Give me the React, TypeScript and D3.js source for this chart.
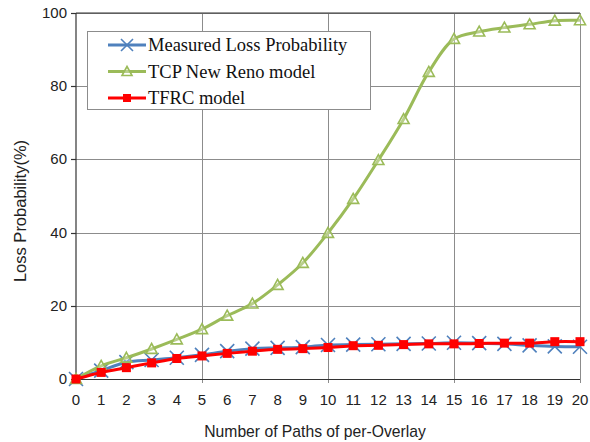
import * as d3 from "d3";
import React, { useEffect, useRef } from "react";

const paths = d3.range(0, 21);
const measured = [0, 2.3, 4.6, 5.2, 5.8, 6.6, 7.6, 8.3, 8.5, 8.7, 9.3, 9.4, 9.5, 9.6, 9.7, 9.9, 9.8, 9.6, 9.2, 8.9, 8.8];
const tcpNewReno = [0, 3.6, 5.8, 8.2, 10.8, 13.6, 17.3, 20.6, 25.7, 31.7, 39.9, 49.2, 59.8, 71, 83.9, 92.9, 94.9, 96, 96.9, 97.9, 98];
const tfrc = [0, 1.8, 3.1, 4.4, 5.6, 6.3, 7.0, 7.6, 8.1, 8.3, 8.6, 9.1, 9.2, 9.4, 9.6, 9.6, 9.7, 9.8, 9.8, 10.2, 10.2];
const yTicks = [0, 20, 40, 60, 80, 100];
const legendLabels = ["Measured Loss Probability", "TCP New Reno model", "TFRC model"];

export default function App() {
    const svgRef = useRef<SVGSVGElement | null>(null);

    useEffect(() => {
        if (!svgRef.current) return;
        const svg = d3.select(svgRef.current);
        svg.selectAll("*").remove();

        const left = 76, right = 580, top = 13, bottom = 379;
        const x = d3.scaleLinear().domain([0, 20]).range([left, right]);
        const y = d3.scaleLinear().domain([0, 100]).range([bottom, top]);

        svg.append("rect").attr("width", 590).attr("height", 442).attr("fill", "white");

        // grid
        const grid = svg.append("g").attr("stroke", "#8c8c8c").attr("stroke-width", 1);
        yTicks.slice(1).forEach((t) => {
            grid.append("line").attr("x1", left).attr("x2", right)
                .attr("y1", Math.round(y(t)) + 0.5).attr("y2", Math.round(y(t)) + 0.5);
        });
        [5, 10, 15, 20].forEach((t) => {
            grid.append("line").attr("x1", Math.round(x(t)) + 0.5).attr("x2", Math.round(x(t)) + 0.5)
                .attr("y1", top).attr("y2", bottom + 4);
        });

        // frame
        const frame = svg.append("g").attr("stroke", "#333").attr("stroke-width", 1.2).attr("fill", "none");
        frame.append("line").attr("x1", left).attr("x2", left).attr("y1", top).attr("y2", bottom + 4);
        frame.append("line").attr("x1", left).attr("x2", right).attr("y1", top).attr("y2", top);
        frame.append("line").attr("x1", left).attr("x2", right).attr("y1", bottom + 0.5).attr("y2", bottom + 0.5);
        yTicks.forEach((t) => {
            frame.append("line").attr("x1", left - 5).attr("x2", left)
                .attr("y1", Math.round(y(t)) + 0.5).attr("y2", Math.round(y(t)) + 0.5);
        });

        // tick labels
        const font = "Liberation Sans, Arial, sans-serif";
        svg.append("g").selectAll("text").data(yTicks).enter().append("text")
            .attr("x", left - 9).attr("y", (d) => y(d) + 5)
            .attr("text-anchor", "end").style("font-family", font).style("font-size", "15px")
            .attr("fill", "#222").text((d) => d);
        svg.append("g").selectAll("text").data(paths).enter().append("text")
            .attr("x", (d) => x(d)).attr("y", 405)
            .attr("text-anchor", "middle").style("font-family", font).style("font-size", "15px")
            .attr("fill", "#222").text((d) => d);

        svg.append("text").attr("x", 315).attr("y", 437).attr("text-anchor", "middle")
            .style("font-family", font).style("font-size", "15.7px").attr("fill", "#222")
            .text("Number of Paths of per-Overlay");
        svg.append("text").attr("transform", `translate(26,211) rotate(-90)`)
            .attr("text-anchor", "middle").style("font-family", font).style("font-size", "16.5px")
            .attr("fill", "#222").text("Loss Probability(%)");

        const line = d3.line<number>().x((d, i) => x(paths[i])).y((d) => y(d)).curve(d3.curveCatmullRom.alpha(0.5));

        const blue = "#4f81bd", green = "#9bbb59", red = "#ff0000";

        // blue measured
        svg.append("path").attr("d", line(measured)).attr("fill", "none").attr("stroke", blue).attr("stroke-width", 3);
        const cross = (g: d3.Selection<SVGGElement, unknown, null, undefined>, cx: number, cy: number, s: number) => {
            g.append("path").attr("d", `M${cx - s},${cy - s}L${cx + s},${cy + s}M${cx - s},${cy + s}L${cx + s},${cy - s}`)
                .attr("stroke", blue).attr("stroke-width", 1.6).attr("fill", "none");
        };
        const gb = svg.append("g");
        measured.forEach((v, i) => cross(gb, x(paths[i]), y(v), 7));

        // green TCP
        svg.append("path").attr("d", line(tcpNewReno)).attr("fill", "none").attr("stroke", green).attr("stroke-width", 3);
        const tri = (g: d3.Selection<SVGGElement, unknown, null, undefined>, cx: number, cy: number, s: number) => {
            g.append("path").attr("d", `M${cx},${cy - s}L${cx + s},${cy + s * 0.8}L${cx - s},${cy + s * 0.8}Z`)
                .attr("stroke", green).attr("stroke-width", 1.6).attr("fill", "white").attr("fill-opacity", 0.3);
        };
        const gg = svg.append("g");
        tcpNewReno.forEach((v, i) => tri(gg, x(paths[i]), y(v), 5.5));

        // red TFRC
        svg.append("path").attr("d", line(tfrc)).attr("fill", "none").attr("stroke", red).attr("stroke-width", 3);
        svg.append("g").selectAll("rect").data(tfrc).enter().append("rect")
            .attr("x", (d, i) => x(paths[i]) - 4.5).attr("y", (d) => y(d) - 4.5)
            .attr("width", 9).attr("height", 9).attr("fill", red);

        // legend
        const lg = svg.append("g");
        lg.append("rect").attr("x", 87.5).attr("y", 31.5).attr("width", 283).attr("height", 78)
            .attr("fill", "white").attr("stroke", "#8c8c8c").attr("stroke-width", 1);
        const colors = [blue, green, red];
        legendLabels.forEach((lab, i) => {
            const ly = 45 + i * 26.5;
            lg.append("line").attr("x1", 108).attr("x2", 146).attr("y1", ly).attr("y2", ly)
                .attr("stroke", colors[i]).attr("stroke-width", 3);
            if (i === 0) cross(lg, 127, ly, 6);
            if (i === 1) tri(lg, 127, ly, 5);
            if (i === 2) lg.append("rect").attr("x", 123).attr("y", ly - 4).attr("width", 8).attr("height", 8).attr("fill", red);
            lg.append("text").attr("x", 148).attr("y", ly + 6)
                .style("font-family", "Liberation Serif, Times New Roman, serif").style("font-size", "18.5px")
                .attr("fill", "#111").text(lab);
        });
    }, []);

    return <svg ref={svgRef} width={590} height={442} style={{ position: "absolute", left: 0, top: 0 }} />;
}
